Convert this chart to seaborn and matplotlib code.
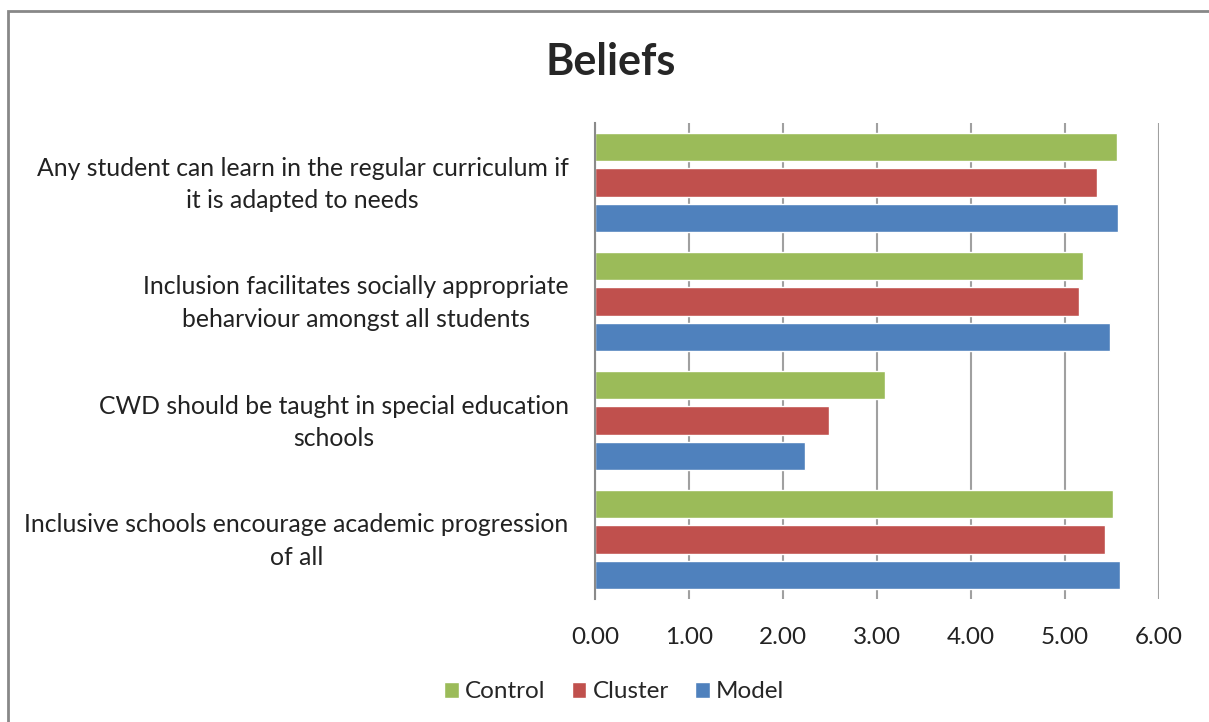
import pandas as pd
import seaborn as sns
import matplotlib.pyplot as plt
import matplotlib.transforms as mtransforms
from matplotlib.patches import Rectangle

# statements (wrapped as in the original chart)
statements = [
    "Any student can learn in the regular curriculum if\nit is adapted to needs",
    "Inclusion facilitates socially appropriate\nbeharviour amongst all students",
    "CWD should be taught in special education\nschools",
    "Inclusive schools encourage academic progression\nof all",
]
groups = ["Control", "Cluster", "Model"]
control = [5.55, 5.19, 3.08, 5.51]
cluster = [5.34, 5.15, 2.49, 5.43]
model = [5.56, 5.48, 2.23, 5.59]
colors = ["#9BBB59", "#C0504D", "#4F81BD"]

df = pd.DataFrame({
    "statement": statements * 3,
    "group": [g for g in groups for _ in statements],
    "score": control + cluster + model,
})

sns.set_style("white")
plt.rcParams["font.family"] = ["Lato", "DejaVu Sans"]

fig = plt.figure(figsize=(12.09, 7.22), dpi=100)
ax = fig.add_axes([595 / 1209, 1 - 599 / 722, (1159 - 595) / 1209, (599 - 123) / 722])

sns.barplot(data=df, x="score", y="statement", hue="group", hue_order=groups,
            order=statements, palette=colors, orient="h", width=0.885, gap=0.2,
            saturation=1, ax=ax, legend=True)

ax.set_xlim(0, 6)
ax.set_xticks(range(7))
ax.set_xticklabels([f"{v:.2f}" for v in range(7)], fontsize=17.5, color="#222222")
ax.xaxis.grid(True, color="#a0a0a0", linewidth=1.5)
ax.set_axisbelow(True)
ax.set_xlabel("")
ax.set_ylabel("")
ax.tick_params(axis="x", length=0, pad=20)
ax.tick_params(axis="y", length=0, pad=19)
shift_up = mtransforms.ScaledTranslation(0, 5 / 100, fig.dpi_scale_trans)
for lab in ax.get_yticklabels():
    lab.set_fontsize(17.8)
    lab.set_multialignment("center")
    lab.set_color("#222222")
    lab.set_linespacing(1.5)
    lab.set_transform(lab.get_transform() + shift_up)
for s in ["top", "right", "bottom"]:
    ax.spines[s].set_visible(False)
ax.spines["left"].set_color("#8a8a8a")
ax.spines["left"].set_linewidth(1.5)

# legend at the bottom
handles, labels = ax.get_legend_handles_labels()
ax.get_legend().remove()
fig.legend(handles, labels, loc="center", bbox_to_anchor=(0.508, 1 - 692 / 722),
           ncol=3, frameon=False, fontsize=17.5, handlelength=0.6, handleheight=0.6,
           handletextpad=0.25, columnspacing=1.1)

fig.text(0.505, 1 - 62 / 722, "Beliefs", ha="center", va="center",
         fontsize=31, fontweight="bold")

# chart border
fig.patches.append(Rectangle((8 / 1209, -0.05), 1.1, 1 - 11 / 722 + 0.05,
                             transform=fig.transFigure, fill=False,
                             edgecolor="#888888", linewidth=2))

fig.savefig("out.png", dpi=100)
